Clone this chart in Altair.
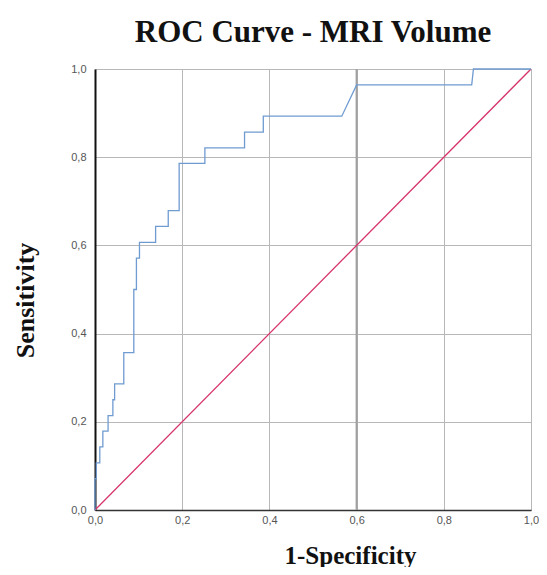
import altair as alt
import pandas as pd

# ROC curve vertices (1-Specificity, Sensitivity)
fpr = [0.0, 0.0, 0.003, 0.003, 0.011, 0.011, 0.018, 0.018, 0.030, 0.030,
       0.041, 0.041, 0.045, 0.045, 0.066, 0.066, 0.089, 0.089, 0.095, 0.095,
       0.102, 0.102, 0.139, 0.139, 0.168, 0.168, 0.193, 0.193, 0.252, 0.252,
       0.343, 0.343, 0.386, 0.386, 0.566, 0.600, 0.864, 0.868, 1.0]
tpr = [0.0, 0.071, 0.071, 0.107, 0.107, 0.143, 0.143, 0.179, 0.179, 0.214,
       0.214, 0.250, 0.250, 0.286, 0.286, 0.357, 0.357, 0.500, 0.500, 0.571,
       0.571, 0.607, 0.607, 0.643, 0.643, 0.679, 0.679, 0.786, 0.786, 0.821,
       0.821, 0.857, 0.857, 0.893, 0.893, 0.964, 0.964, 1.0, 1.0]
ref_x = [0.0, 1.0]
ref_y = [0.0, 1.0]
ticks = [0.0, 0.2, 0.4, 0.6, 0.8, 1.0]
dark_grid_x = [0.6]

roc = pd.DataFrame({"x": fpr, "y": tpr, "i": range(len(fpr))})
ref = pd.DataFrame({"x": ref_x, "y": ref_y, "i": range(len(ref_x))})
grid_df = pd.DataFrame({"x": dark_grid_x})

label_expr = "replace(format(datum.value, '.1f'), '.', ',')"

xscale = alt.Scale(domain=[0, 1], nice=False)
yscale = alt.Scale(domain=[0, 1], nice=False)

xaxis = alt.Axis(values=ticks, labelExpr=label_expr, title="1-Specificity",
                 grid=True, gridColor="#b8b8b8", gridWidth=1,
                 domainColor="#333333", domainWidth=1.5, ticks=False,
                 labelFont="Liberation Sans", labelFontSize=11, labelColor="#555555",
                 labelPadding=4, labelFlush=False,
                 titleFont="Liberation Serif", titleFontSize=25,
                 titleFontWeight="bold", titleColor="#111111", titlePadding=18,
                 titleX=255, titleAnchor="start", titleAlign="center")
yaxis = alt.Axis(values=ticks, labelExpr=label_expr, title="Sensitivity",
                 grid=True, gridColor="#b8b8b8", gridWidth=1,
                 domainColor="#111111", domainWidth=2, ticks=False,
                 labelFont="Liberation Sans", labelFontSize=11, labelColor="#555555",
                 labelPadding=9, labelFlush=False,
                 titleFont="Liberation Serif", titleFontSize=26,
                 titleFontWeight="bold", titleColor="#111111", titlePadding=32,
                 titleY=231, titleAnchor="start", titleAlign="center")

grid_rule = alt.Chart(grid_df).mark_rule(color="#a0a0a0", strokeWidth=2).encode(
    x=alt.X("x:Q", scale=xscale, axis=xaxis),
)
ref_line = alt.Chart(ref).mark_line(color="#d6336c", strokeWidth=1.3).encode(
    x=alt.X("x:Q", scale=xscale, axis=xaxis),
    y=alt.Y("y:Q", scale=yscale, axis=yaxis),
    order="i:O",
)
roc_line = alt.Chart(roc).mark_line(color="#6f9bd1", strokeWidth=1.3, interpolate="linear").encode(
    x=alt.X("x:Q", scale=xscale),
    y=alt.Y("y:Q", scale=yscale),
    order="i:O",
)

chart = alt.layer(grid_rule, ref_line, roc_line).properties(
    width=436, height=441,
    title=alt.TitleParams("ROC Curve - MRI Volume", font="Liberation Serif",
                          fontSize=31, fontWeight="bold", color="#111111",
                          anchor="middle", offset=14),
    autosize=alt.AutoSizeParams(type="none"),
    padding={"left": 87, "top": 61, "right": 8, "bottom": 57},
).configure_view(stroke="#b8b8b8", strokeWidth=1)

chart.save("out.html", embed_options={"renderer": "svg", "actions": False})
